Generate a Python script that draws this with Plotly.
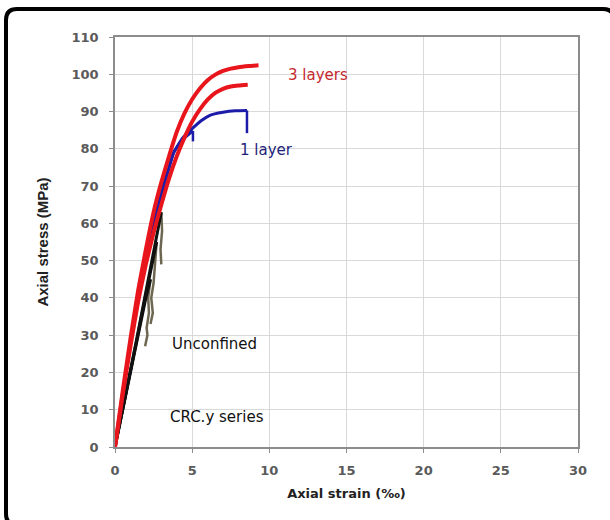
import plotly.graph_objects as go

# ---- data (strain in per mille, stress in MPa) ----
red_a_strain = [0, 0.5, 1.0, 1.5, 2.0, 2.5, 3.0, 3.5, 4.0, 4.5, 5.0, 5.5, 6.0, 6.5, 7.0, 7.5, 8.0, 8.7, 9.3]
red_a_stress = [0, 15, 29, 42, 53, 63, 71, 78, 84.5, 89.5, 93.3, 96.2, 98.4, 99.9, 100.9, 101.5, 101.9, 102.2, 102.4]

red_b_strain = [0, 0.5, 1.0, 1.5, 2.0, 2.5, 3.0, 3.5, 4.0, 4.5, 5.0, 5.5, 6.0, 6.5, 7.0, 7.5, 8.0, 8.6]
red_b_stress = [0, 14, 27, 39, 49, 57.5, 65, 72, 78, 83, 87.3, 90.6, 93.2, 95, 96.1, 96.7, 97.0, 97.2]

blue_a_strain = [0, 0.5, 1.0, 1.5, 2.0, 2.5, 3.0, 3.5, 3.8, 4.4, 5.05, 5.6, 6.15, 7.0, 7.8, 8.55, 8.55]
blue_a_stress = [0, 14, 28, 40, 51, 60, 68, 75, 79, 83, 85.6, 87.6, 89, 89.8, 90.2, 90.3, 84.2]

blue_b_strain = [0, 0.5, 1.0, 1.5, 2.0, 2.5, 3.0, 3.5, 3.8, 4.4, 5.05, 5.05]
blue_b_stress = [0, 14, 28, 40, 51, 60, 68, 75, 79, 82.5, 84.8, 82]

unc_a_strain = [0, 0.5, 1.0, 1.5, 2.0, 2.5, 2.9, 3.0]
unc_a_stress = [0, 10, 20.5, 31, 41.5, 52, 61, 63]
unc_a_drop_strain = [3.0, 3.05, 2.95, 3.0]
unc_a_drop_stress = [63, 58, 53, 49]

unc_b_strain = [0, 0.5, 1.0, 1.5, 2.0, 2.5, 2.7]
unc_b_stress = [0, 10, 20, 30.5, 41, 51.5, 55]
unc_b_drop_strain = [2.7, 2.6, 2.5, 2.35, 2.45, 2.3]
unc_b_drop_stress = [55, 48, 44, 40, 36, 33]

unc_c_strain = [0, 0.5, 1.0, 1.5, 2.0, 2.3]
unc_c_stress = [0, 10, 20, 30, 40, 45]
unc_c_drop_strain = [2.3, 2.15, 2.2, 2.05, 2.1, 1.95]
unc_c_drop_stress = [45, 40, 36, 32, 30, 27]

x_ticks = [0, 5, 10, 15, 20, 25, 30]
y_ticks = [0, 10, 20, 30, 40, 50, 60, 70, 80, 90, 100, 110]

RED = "#e8161c"
BLUE = "#1c1ca8"
BLACK = "#111111"
DROP = "#6d6650"

fig = go.Figure()

def add(xs, ys, color, w):
    fig.add_trace(go.Scatter(x=xs, y=ys, mode="lines",
                             line=dict(color=color, width=w, shape="spline", smoothing=0.5),
                             showlegend=False, hoverinfo="skip"))

def add_lin(xs, ys, color, w):
    fig.add_trace(go.Scatter(x=xs, y=ys, mode="lines", line=dict(color=color, width=w),
                             showlegend=False, hoverinfo="skip"))

add_lin(unc_c_drop_strain, unc_c_drop_stress, DROP, 2.5)
add_lin(unc_b_drop_strain, unc_b_drop_stress, DROP, 2.5)
add_lin(unc_a_drop_strain, unc_a_drop_stress, DROP, 2.5)
add_lin(unc_c_strain, unc_c_stress, BLACK, 3)
add_lin(unc_b_strain, unc_b_stress, BLACK, 3)
add_lin(unc_a_strain, unc_a_stress, BLACK, 3)
add(blue_b_strain[:-1], blue_b_stress[:-1], BLUE, 3)
add_lin(blue_b_strain[-2:], blue_b_stress[-2:], BLUE, 2.5)
add(blue_a_strain[:-1], blue_a_stress[:-1], BLUE, 3)
add_lin(blue_a_strain[-2:], blue_a_stress[-2:], BLUE, 2.5)
add(red_b_strain, red_b_stress, RED, 4)
add(red_a_strain, red_a_stress, RED, 4)

# text labels
fig.add_annotation(x=11.1, y=99.8, text="3 layers", showarrow=False, xanchor="left",
                   font=dict(family="DejaVu Sans", size=15, color="#c42a2e"))
fig.add_annotation(x=7.95, y=79.7, text="1 layer", showarrow=False, xanchor="left",
                   font=dict(family="DejaVu Sans", size=15, color="#1f1f7a"))
fig.add_annotation(x=3.55, y=27.6, text="Unconfined", showarrow=False, xanchor="left",
                   font=dict(family="DejaVu Sans", size=15, color="#111111"))
fig.add_annotation(x=3.45, y=8.0, text="CRC.y series", showarrow=False, xanchor="left",
                   font=dict(family="DejaVu Sans", size=15, color="#111111"))

# outer black rounded frame (pixel coords -> paper)
L, R, T, B = 115, 578, 37, 447
def px(x):
    return (x - L) / (R - L)
def py(y):
    return (B - y) / (B - T)
x0, x1, y0, y1, r = 6.0, 614, 9.0, 525, 11
path = (f"M {px(x0)},{py(y1 - r)} L {px(x0)},{py(y0 + r)} Q {px(x0)},{py(y0)} {px(x0 + r)},{py(y0)} "
        f"L {px(x1 - r)},{py(y0)} Q {px(x1)},{py(y0)} {px(x1)},{py(y0 + r)} "
        f"L {px(x1)},{py(y1 - r)} Q {px(x1)},{py(y1)} {px(x1 - r)},{py(y1)} "
        f"L {px(x0 + r)},{py(y1)} Q {px(x0)},{py(y1)} {px(x0)},{py(y1 - r)} Z")
fig.add_shape(type="path", path=path, xref="paper", yref="paper",
              line=dict(color="black", width=4), layer="above")

axis_common = dict(showgrid=True, gridcolor="#d9d9d9", gridwidth=1, zeroline=False,
                   showline=True, linecolor="#8c8c8c", linewidth=1.5, mirror=True,
                   ticks="outside", ticklen=4, tickcolor="#8c8c8c",
                   tickfont=dict(family="DejaVu Sans", size=13, color="#5a5a5a", weight="bold"))

fig.update_xaxes(range=[0, 30], tickvals=x_ticks, ticklabelstandoff=7, **axis_common,
                 title=dict(text="Axial strain (‰)", standoff=12,
                            font=dict(family="DejaVu Sans", size=13, color="#222222", weight="bold")))
fig.update_yaxes(range=[0, 110], tickvals=y_ticks, ticklabelstandoff=8, **axis_common,
                 title=dict(text="Axial stress (MPa)", standoff=19,
                            font=dict(family="Liberation Sans Narrow, Liberation Sans", size=15,
                                      color="#222222", weight="bold")))

fig.update_layout(width=610, height=520, margin=dict(l=115, r=32, t=37, b=73),
                  paper_bgcolor="white", plot_bgcolor="white")

fig.write_html("out.html")
